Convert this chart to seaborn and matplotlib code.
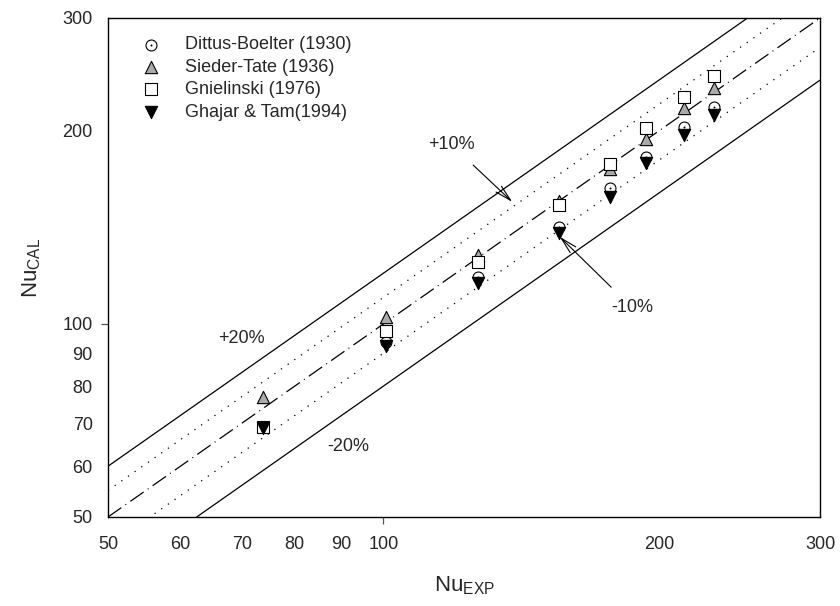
import numpy as np
import pandas as pd
import matplotlib
matplotlib.use('Agg')
import matplotlib.pyplot as plt
import seaborn as sns
from matplotlib.path import Path
from matplotlib.ticker import FixedLocator, FixedFormatter

# ---- data ----
nu_exp = [73.8, 100.7, 127.0, 155.4, 177.0, 193.7, 213.0, 230.0]
nu_dittus = [69.0, 93.8, 118.5, 141.8, 163.0, 182.0, 203.0, 218.0]
nu_sieder = [76.9, 102.4, 128.3, 155.5, 174.5, 194.0, 217.0, 233.0]
nu_gniel = [69.0, 97.4, 125.0, 153.5, 177.3, 202.0, 226.0, 244.0]
nu_ghajar = [68.8, 92.5, 116.0, 138.8, 158.0, 178.0, 197.0, 212.0]

series_names = ["Dittus-Boelter (1930)", "Sieder-Tate (1936)",
                "Gnielinski (1976)", "Ghajar & Tam(1994)"]

# deviation lines y = r * x
ratios = [1.2, 1.1, 1.0, 0.9, 0.8]
tick_vals = [50, 60, 70, 80, 90, 100, 200, 300]
lims = [50, 300]

sns.set_theme(style='ticks')
plt.rcParams['font.family'] = ['Liberation Sans', 'DejaVu Sans']
plt.rcParams['mathtext.default'] = 'regular'

fig = plt.figure(figsize=(8.4, 6.06), dpi=100)
ax = fig.add_axes([108 / 840, 89 / 606, 712 / 840, 499 / 606])
ax.set_xscale('log')
ax.set_yscale('log')

# reference lines
line_styles = {
    1.2: '-',
    1.1: (0, (1, 5.5)),
    1.0: (0, (13, 4, 0.8, 4)),
    0.9: (0, (1, 5.5)),
    0.8: '-',
}
x_line = np.array(lims, dtype=float)
for r in ratios:
    ax.plot(x_line, r * x_line, color='black', lw=0.9,
            linestyle=line_styles[r], zorder=1)

# circle marker with a centre dot
dot_circle = Path.make_compound_path(Path.unit_circle(),
                                     Path.circle((0, 0), 0.08))

df = pd.DataFrame({
    'exp': nu_exp * 4,
    'cal': nu_dittus + nu_sieder + nu_gniel + nu_ghajar,
    'corr': np.repeat(series_names, len(nu_exp)),
})

marker_opts = [
    dict(marker=dot_circle, s=62, color='white', edgecolor='black'),
    dict(marker='^', s=78, color='#aaaaaa', edgecolor='black'),
    dict(marker='s', s=70, color='white', edgecolor='black'),
    dict(marker='v', s=78, color='black', edgecolor='black'),
]
for name, opts in zip(series_names, marker_opts):
    sub = df[df['corr'] == name]
    sns.scatterplot(data=sub, x='exp', y='cal', ax=ax, label=name,
                    linewidth=0.8, zorder=3, **opts)

ax.set_xlim(lims)
ax.set_ylim(lims)

# only 100 gets a visible tick mark, the rest are just labels
for axis in (ax.xaxis, ax.yaxis):
    axis.set_major_locator(FixedLocator([100]))
    axis.set_major_formatter(FixedFormatter(['100']))
    minor = [v for v in tick_vals if v != 100]
    axis.set_minor_locator(FixedLocator(minor))
    axis.set_minor_formatter(FixedFormatter([str(v) for v in minor]))
ax.tick_params(which='major', length=5, width=0.9, color='#555555',
               labelsize=13, direction='out')
ax.tick_params(which='minor', length=0, labelsize=13)
ax.tick_params(axis='x', which='major', pad=9)
ax.tick_params(axis='x', which='minor', pad=14)
ax.tick_params(axis='y', which='major', pad=6)
ax.tick_params(axis='y', which='minor', pad=11)

for sp in ax.spines.values():
    sp.set_visible(True)
    sp.set_color('black')
    sp.set_linewidth(1.0)

ax.set_xlabel(r'Nu$_{EXP}$', fontsize=16, labelpad=15)
ax.set_ylabel(r'Nu$_{CAL}$', fontsize=16, labelpad=14)

# annotations
ax.text(70, 95, '+20%', fontsize=13, ha='center', va='center')
ax.text(91.5, 64.3, '-20%', fontsize=13, ha='center', va='center')
arrow = dict(arrowstyle='->,head_length=0.9,head_width=0.22', color='black', lw=0.8)
ax.annotate('+10%', xy=(138.3, 155.0), xytext=(118.7, 190.3), fontsize=13,
            ha='center', va='center', arrowprops=dict(arrow, shrinkA=9, shrinkB=0))
ax.annotate('-10%', xy=(155.8, 136.8), xytext=(187.0, 106.0), fontsize=13,
            ha='center', va='center', arrowprops=dict(arrow, shrinkA=9, shrinkB=0))

leg = ax.legend(loc='upper left', bbox_to_anchor=(0.02, 0.985), frameon=False,
                fontsize=13, handletextpad=0.9, labelspacing=0.3,
                borderaxespad=0.2)

fig.savefig('out.png', dpi=100)
